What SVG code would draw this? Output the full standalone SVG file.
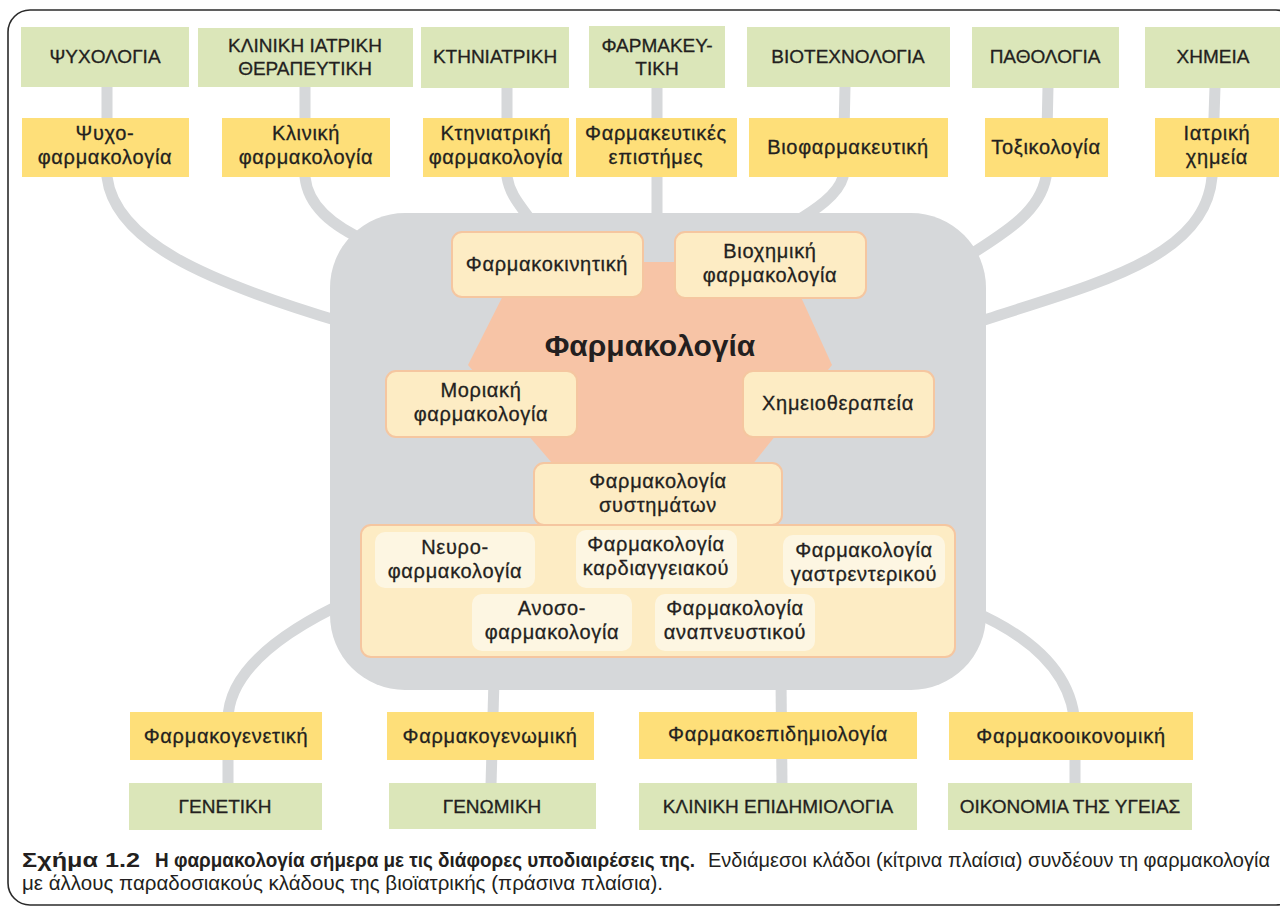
<svg xmlns="http://www.w3.org/2000/svg" width="1280" height="909" viewBox="0 0 1280 909">
<style>
.g{fill:#dbe6b9}
.y{fill:#fedf79}
.ib{fill:#fdecc4;stroke:#f5c6a0;stroke-width:2}
.il{fill:#fdf6e2}
.c{fill:none;stroke:#d6d8da;stroke-width:11;stroke-linecap:butt}
text{font-family:"Liberation Sans",Arial,sans-serif;fill:#231f20;text-anchor:middle;stroke:#231f20;stroke-width:0.3}
.u{font-size:19px}
.l{font-size:20px;letter-spacing:0.7px}
.cap{font-size:20px;text-anchor:start;stroke:none}
</style>
<rect width="1280" height="909" fill="#ffffff"/>
<rect x="8" y="10" width="1290" height="895" rx="22" fill="none" stroke="#2b2b2b" stroke-width="1.6"/>

<g id="connectors">
<path class="c" d="M107 87 L107 177 C115 240 200 280 345 323"/>
<path class="c" d="M305 87 L305 177 C308 205 330 225 370 243"/>
<path class="c" d="M507 87 L507 177 C510 195 520 205 532 222"/>
<path class="c" d="M657 87 L657 222"/>
<path class="c" d="M845 87 L843 177 C838 195 815 210 795 222"/>
<path class="c" d="M1048 87 L1046 177 C1040 210 1010 230 965 258"/>
<path class="c" d="M1215 87 L1212 177 C1205 260 1090 285 975 323"/>
<path class="c" d="M350 600 C285 630 228 670 228 720 L228 785"/>
<path class="c" d="M494 680 L491 785"/>
<path class="c" d="M781 680 L782 785"/>
<path class="c" d="M970 610 C1040 640 1075 680 1075 730 L1075 785"/>
</g>

<g id="core">
<rect x="330" y="213" width="656" height="477" rx="75" fill="#d6d8da"/>
<polygon points="520,262 785,262 832,365 748,470 558,470 468,365" fill="#f7c4a6"/>
<text x="650" y="356" style="font-size:30px;font-weight:bold;stroke:none">Φαρμακολογία</text>
</g>

<g id="top-green">
<g id="n-psych"><rect class="g" x="21" y="27" width="168" height="60"/><text class="u" x="105" y="63">ΨΥΧΟΛΟΓΙΑ</text></g>
<g id="n-klin"><rect class="g" x="198" y="28" width="215" height="59"/><text class="u" x="305" y="52">ΚΛΙΝΙΚΗ ΙΑΤΡΙΚΗ</text><text class="u" x="305" y="75">ΘΕΡΑΠΕΥΤΙΚΗ</text></g>
<g id="n-ktin"><rect class="g" x="421" y="27" width="148" height="61"/><text class="u" x="495" y="63">ΚΤΗΝΙΑΤΡΙΚΗ</text></g>
<g id="n-farm"><rect class="g" x="589" y="26" width="136" height="62"/><text class="u" x="657" y="52">ΦΑΡΜΑΚΕΥ-</text><text class="u" x="657" y="75">ΤΙΚΗ</text></g>
<g id="n-biot"><rect class="g" x="747" y="27" width="203" height="60"/><text class="u" x="848" y="63">ΒΙΟΤΕΧΝΟΛΟΓΙΑ</text></g>
<g id="n-path"><rect class="g" x="972" y="27" width="147" height="61"/><text class="u" x="1045" y="63">ΠΑΘΟΛΟΓΙΑ</text></g>
<g id="n-xim"><rect class="g" x="1145" y="27" width="135" height="61"/><text class="u" x="1213" y="63">ΧΗΜΕΙΑ</text></g>
</g>

<g id="top-yellow">
<g id="y-psych"><rect class="y" x="22" y="118" width="167" height="59"/><text class="l" x="105" y="140">Ψυχο-</text><text class="l" x="105" y="164">φαρμακολογία</text></g>
<g id="y-klin"><rect class="y" x="222" y="118" width="168" height="59"/><text class="l" x="306" y="140">Κλινική</text><text class="l" x="306" y="164">φαρμακολογία</text></g>
<g id="y-ktin"><rect class="y" x="423" y="118" width="146" height="59"/><text class="l" x="496" y="140">Κτηνιατρική</text><text class="l" x="496" y="164">φαρμακολογία</text></g>
<g id="y-farm"><rect class="y" x="576" y="118" width="161" height="59"/><text class="l" x="656" y="140">Φαρμακευτικές</text><text class="l" x="656" y="164">επιστήμες</text></g>
<g id="y-biof"><rect class="y" x="749" y="118" width="199" height="59"/><text class="l" x="848" y="154">Βιοφαρμακευτική</text></g>
<g id="y-tox"><rect class="y" x="985" y="118" width="123" height="59"/><text class="l" x="1046" y="154">Τοξικολογία</text></g>
<g id="y-iat"><rect class="y" x="1155" y="118" width="124" height="59"/><text class="l" x="1217" y="140">Ιατρική</text><text class="l" x="1217" y="164">χημεία</text></g>
</g>

<g id="inner">
<g id="i-kin"><rect class="ib" x="452" y="232" width="191" height="65" rx="10"/><text class="l" x="547" y="271">Φαρμακοκινητική</text></g>
<g id="i-bio"><rect class="ib" x="675" y="232" width="191" height="66" rx="10"/><text class="l" x="770" y="258">Βιοχημική</text><text class="l" x="770" y="282">φαρμακολογία</text></g>
<g id="i-mor"><rect class="ib" x="386" y="371" width="191" height="66" rx="10"/><text class="l" x="481" y="397">Μοριακή</text><text class="l" x="481" y="421">φαρμακολογία</text></g>
<g id="i-xim"><rect class="ib" x="743" y="371" width="191" height="66" rx="10"/><text class="l" x="838" y="410">Χημειοθεραπεία</text></g>
<g id="i-sys"><rect class="ib" x="534" y="463" width="248" height="62" rx="10"/><text class="l" x="658" y="488">Φαρμακολογία</text><text class="l" x="658" y="512">συστημάτων</text></g>
<g id="i-cont"><rect class="ib" x="361" y="525" width="594" height="132" rx="10"/></g>
<g id="i-neu"><rect class="il" x="375" y="532" width="160" height="56" rx="10"/><text class="l" x="455" y="554">Νευρο-</text><text class="l" x="455" y="578">φαρμακολογία</text></g>
<g id="i-kar"><rect class="il" x="576" y="530" width="161" height="58" rx="10"/><text class="l" x="656" y="551">Φαρμακολογία</text><text class="l" x="656" y="575">καρδιαγγειακού</text></g>
<g id="i-gas"><rect class="il" x="783" y="535" width="162" height="53" rx="10"/><text class="l" x="864" y="557">Φαρμακολογία</text><text class="l" x="864" y="581">γαστρεντερικού</text></g>
<g id="i-ano"><rect class="il" x="472" y="594" width="160" height="57" rx="10"/><text class="l" x="552" y="615">Ανοσο-</text><text class="l" x="552" y="639">φαρμακολογία</text></g>
<g id="i-ana"><rect class="il" x="655" y="594" width="160" height="57" rx="10"/><text class="l" x="735" y="615">Φαρμακολογία</text><text class="l" x="735" y="639">αναπνευστικού</text></g>
</g>

<g id="bottom-yellow">
<g id="b-gen"><rect class="y" x="130" y="712" width="192" height="48"/><text class="l" x="226" y="743">Φαρμακογενετική</text></g>
<g id="b-genom"><rect class="y" x="387" y="712" width="207" height="48"/><text class="l" x="490" y="743">Φαρμακογενωμική</text></g>
<g id="b-epi"><rect class="y" x="639" y="712" width="278" height="47"/><text class="l" x="778" y="741">Φαρμακοεπιδημιολογία</text></g>
<g id="b-oik"><rect class="y" x="949" y="712" width="244" height="48"/><text class="l" x="1071" y="743">Φαρμακοοικονομική</text></g>
</g>

<g id="bottom-green">
<g id="g-gen"><rect class="g" x="129" y="783" width="193" height="47"/><text class="u" x="225" y="813">ΓΕΝΕΤΙΚΗ</text></g>
<g id="g-genom"><rect class="g" x="389" y="783" width="207" height="46"/><text class="u" x="492" y="813">ΓΕΝΩΜΙΚΗ</text></g>
<g id="g-epi"><rect class="g" x="639" y="783" width="278" height="47"/><text class="u" x="778" y="813">ΚΛΙΝΙΚΗ ΕΠΙΔΗΜΙΟΛΟΓΙΑ</text></g>
<g id="g-oik"><rect class="g" x="948" y="783" width="244" height="47"/><text class="u" x="1070" y="813">ΟΙΚΟΝΟΜΙΑ ΤΗΣ ΥΓΕΙΑΣ</text></g>
</g>

<g id="caption">
<text class="cap" x="22" y="867" textLength="118" lengthAdjust="spacingAndGlyphs" style="font-weight:bold">Σχήμα 1.2</text>
<text class="cap" x="155" y="867" textLength="540" lengthAdjust="spacingAndGlyphs" style="font-weight:bold">Η φαρμακολογία σήμερα με τις διάφορες υποδιαιρέσεις της.</text>
<text class="cap" x="708" y="867" textLength="562" lengthAdjust="spacingAndGlyphs">Ενδιάμεσοι κλάδοι (κίτρινα πλαίσια) συνδέουν τη φαρμακολογία</text>
<text class="cap" x="22" y="890" textLength="641" lengthAdjust="spacingAndGlyphs">με άλλους παραδοσιακούς κλάδους της βιοϊατρικής (πράσινα πλαίσια).</text>
</g>
</svg>
